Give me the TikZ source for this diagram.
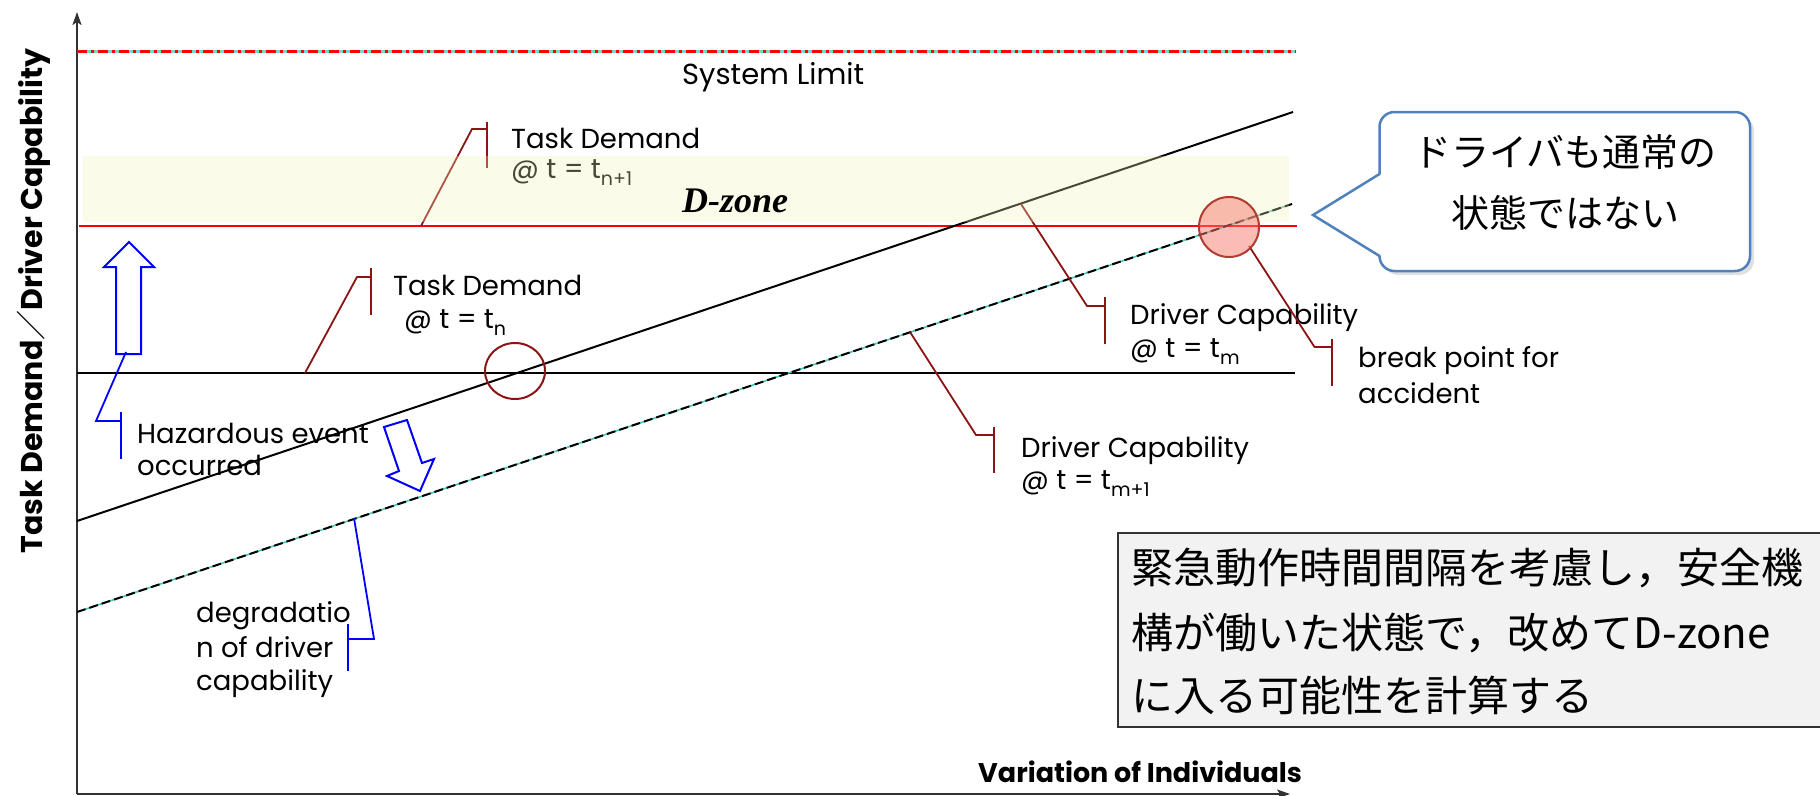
\documentclass[tikz,border=0pt]{standalone}
\usepackage{fontspec}
\setmainfont{Poppins}
\newfontfamily\cjk{Noto Sans CJK JP}
\newfontfamily\tms{Liberation Serif}
\usetikzlibrary{arrows.meta}

\definecolor{leaderred}{RGB}{140,20,20}
\definecolor{limitcyan}{RGB}{120,215,200}
\definecolor{dashcyan}{RGB}{60,200,180}
\definecolor{bandyellow}{RGB}{245,242,185}
\definecolor{bubbleblue}{RGB}{79,129,189}
\definecolor{boxgray}{RGB}{242,242,242}
\definecolor{pinkfill}{RGB}{246,125,110}
\definecolor{pinkedge}{RGB}{176,60,50}
\definecolor{axisgray}{RGB}{50,50,50}

\newcommand{\fsz}[1]{\fontsize{#1}{#1}\selectfont}
\newcommand{\subs}[1]{\raisebox{-7pt}{\fsz{19}#1}}

\begin{document}
\begin{tikzpicture}[x=1pt,y=-1pt,
  lbl/.style={anchor=base west, inner sep=0pt, font=\fsz{27.5}},
  leader/.style={leaderred, line width=1.8},
  blueleader/.style={blue, line width=1.8},
  hollow/.style={blue, line width=2, fill=white, line join=miter},
  axisline/.style={axisgray, line width=2, -{Stealth[length=13pt,width=9pt,inset=3pt]}},
]
\useasboundingbox (0,0) rectangle (1820,795);
\clip (0,0) rectangle (1820,795);
\fill[white] (0,0) rectangle (1820,795);

% axes
\coordinate (origin) at (77,794);
\coordinate (ytop) at (77,12);
\coordinate (xend) at (1290,794);
\draw[axisline] (origin) -- (ytop);
\draw[axisline] (origin) -- (xend);
\node[rotate=90, anchor=base, inner sep=0pt, font=\bfseries\fsz{30}] (ylabel) at (42,301)
  {Task Demand{\cjk\mdseries ／}Driver Capability};
\node[anchor=base west, inner sep=0pt, font=\bfseries\fsz{27}] (xlabel) at (978,782)
  {Variation of Individuals};

% system limit
\coordinate (limL) at (77,51.7);
\coordinate (limR) at (1296,51.7);
\draw[limitcyan, line width=3] (limL) -- (limR);
\draw[red, line width=2.5, dash pattern=on 10pt off 4pt on 3pt off 4pt] (limL) -- (limR);
\node[lbl, font=\fsz{29}] (limtext) at (682,84) {System Limit};

% task demand levels
\coordinate (tdL) at (77,373);
\coordinate (tdR) at (1295,373);
\draw[black, line width=2] (tdL) -- (tdR);
\coordinate (redL) at (79,226);
\coordinate (redR) at (1297,226);
\draw[red, line width=2.5] (redL) -- (redR);

% driver capability lines
\coordinate (dcL) at (77,521);
\coordinate (dcR) at (1293,112);
\draw[black, line width=2] (dcL) -- (dcR);
\coordinate (ddL) at (77,612);
\coordinate (ddR) at (1292,204);
\draw[dashcyan, line width=1.5] (ddL) -- (ddR);
\draw[black, line width=2, dash pattern=on 9pt off 4pt] (ddL) -- (ddR);

% callout: task demand t_{n+1}
\coordinate (a1) at (421,226);
\coordinate (a1k) at (472,129);
\coordinate (a1b) at (487,129);
\draw[leader] (a1) -- (a1k) -- (a1b);
\draw[leader] (487,122) -- (487,168);
\node[lbl] (tdn1a) at (511,148) {Task Demand};
\node[lbl] (tdn1b) at (511,178) {@ t = t\subs{n+1}};

% callout: task demand t_n
\coordinate (a2) at (305,373);
\coordinate (a2k) at (357,277);
\coordinate (a2b) at (371,277);
\draw[leader] (a2) -- (a2k) -- (a2b);
\draw[leader] (371,268) -- (371,315);
\node[lbl] (tdna) at (393,295) {Task Demand};
\node[lbl] (tdnb) at (404,328) {@ t = t\subs{n}};

% callout: driver capability t_m
\coordinate (a3) at (1021,204);
\coordinate (a3k) at (1087,306);
\coordinate (a3b) at (1105,306);
\draw[leader] (a3) -- (a3k) -- (a3b);
\draw[leader] (1105,297) -- (1105,344);
\node[lbl] (dcma) at (1130,324) {Driver Capability};
\node[lbl] (dcmb) at (1130,357) {@ t = t\subs{m}};

% callout: driver capability t_{m+1}
\coordinate (a4) at (910,332);
\coordinate (a4k) at (976,435);
\coordinate (a4b) at (994,435);
\draw[leader] (a4) -- (a4k) -- (a4b);
\draw[leader] (994,427) -- (994,473);
\node[lbl] (dcm1a) at (1021,457) {Driver Capability};
\node[lbl] (dcm1b) at (1021,489) {@ t = t\subs{m+1}};

% hazardous event
\draw[hollow] (129,242) -- (154,267) -- (141,267) -- (141,354) -- (116,354) -- (116,267) -- (104,267) -- cycle;
\coordinate (h0) at (126,352);
\coordinate (hk) at (96,421);
\coordinate (hb) at (121,421);
\draw[blueleader] (h0) -- (hk) -- (hb);
\draw[blueleader] (121,412) -- (121,459);
\node[lbl] (haza) at (137,443) {Hazardous event};
\node[lbl] (hazb) at (137,475) {occurred};

% degradation
\draw[hollow] (384,427) -- (407,420) -- (422,463) -- (434,459) -- (420,491) -- (387,476) -- (399,471) -- cycle;
\coordinate (g0) at (354,518);
\coordinate (gk) at (374,639);
\coordinate (gb) at (348,639);
\draw[blueleader] (g0) -- (gk) -- (gb);
\draw[blueleader] (348,624) -- (348,671);
\node[lbl] (dega) at (196,622) {degradatio};
\node[lbl] (degb) at (196,657) {n of driver};
\node[lbl] (degc) at (196,690) {capability};

% break point
\coordinate (b0) at (1249,246);
\coordinate (bk) at (1314.5,347);
\coordinate (bb) at (1332,347);
\draw[leader] (b0) -- (bk) -- (bb);
\draw[leader] (1332,339) -- (1332,386);
\node[lbl] (bpa) at (1358,367) {break point for};
\node[lbl] (bpb) at (1358,403) {accident};

% D-zone band
\fill[bandyellow, fill opacity=0.3] (83,156) rectangle (1289,222);
\node[anchor=base west, inner sep=0pt, font=\tms\bfseries\itshape\fsz{36}] (dzone) at (682,212) {D-zone};

% crossing marks
\draw[leaderred, line width=2] (515,371) ellipse [x radius=30, y radius=28];
\draw[pinkedge, line width=2, fill=pinkfill, fill opacity=0.5] (1229,227) circle [radius=30];

% speech bubble with a faint shadow
\fill[black, opacity=0.12, rounded corners=15] (1383,116) rectangle (1754,275);
\node[draw=bubbleblue, line width=2.5, fill=white, rounded corners=15, minimum width=370.5pt, minimum height=159pt, inner sep=0pt] (bubble) at (1564.75,191.5) {};
\coordinate (ptip) at (1313,215);
\fill[white] (1381.5,174) -- (ptip) -- (1381.5,256) -- cycle;
\draw[bubbleblue, line width=2.5, line join=miter] (1379.5,174) -- (ptip) -- (1379.5,256);
\node[anchor=base, inner sep=0pt, font=\cjk\fsz{38}] (bub1) at (1565,166) {ドライバも通常の};
\node[anchor=base, inner sep=0pt, font=\cjk\fsz{38}] (bub2) at (1565,227) {状態ではない};

% note box
\draw[black!80, line width=2, fill=boxgray] (1118,533) rectangle (1840,727);
\node[anchor=base west, inner sep=0pt, font=\cjk\fsz{42}] (note1) at (1131,583) {緊急動作時間間隔を考慮し，安全機};
\node[anchor=base west, inner sep=0pt, font=\cjk\fsz{42}] (note2) at (1131,648) {構が働いた状態で，改めてD-zone};
\node[anchor=base west, inner sep=0pt, font=\cjk\fsz{42}] (note3) at (1131,711) {に入る可能性を計算する};
\end{tikzpicture}
\end{document}
